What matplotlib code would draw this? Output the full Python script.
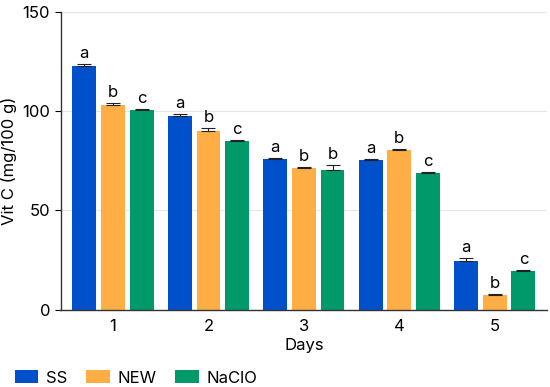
import numpy as np
import matplotlib.pyplot as plt

plt.rcParams['font.family'] = ['Inter', 'DejaVu Sans']

days = ['1', '2', '3', '4', '5']
series = ['SS', 'NEW', 'NaClO']
ss = [122.8, 97.6, 76.0, 75.3, 24.7]
ss_err = [1.0, 0.8, 0.5, 0.5, 1.5]
new = [103.2, 90.1, 71.1, 80.2, 7.2]
new_err = [0.8, 1.2, 0.6, 0.6, 0.6]
naclo = [100.6, 85.0, 70.3, 68.6, 19.3]
naclo_err = [0.5, 0.5, 2.5, 0.8, 0.7]
ss_lbl = ['a', 'a', 'a', 'a', 'a']
new_lbl = ['b', 'b', 'b', 'b', 'b']
naclo_lbl = ['c', 'c', 'b', 'c', 'c']
colors = ['#0050cc', '#ffae45', '#00996a']

fig, ax = plt.subplots(figsize=(5.5, 3.87), dpi=100)
fig.subplots_adjust(left=0.11, right=0.995, top=0.97, bottom=0.2)

x = np.arange(1, len(days) + 1)
w = 0.25
step = 0.30
vals = [ss, new, naclo]
errs = [ss_err, new_err, naclo_err]
lbls = [ss_lbl, new_lbl, naclo_lbl]
for i in range(3):
    xs = x + (i - 1) * step
    ax.bar(xs, vals[i], w, color=colors[i], label=series[i], zorder=2)
    ax.errorbar(xs, vals[i], yerr=[np.zeros(5), errs[i]], fmt='none',
                ecolor='#222222', elinewidth=0.8, capsize=5, capthick=0.8, zorder=3)
    for xx, v, e, t in zip(xs, vals[i], errs[i], lbls[i]):
        ax.text(xx, v + e + 1.5, t, ha='center', va='bottom', fontsize=12)

ax.set_xlim(0.45, 5.55)
ax.set_ylim(0, 150)
ax.set_yticks([0, 50, 100, 150])
ax.set_xticks(x)
ax.set_xticklabels(days)
ax.tick_params(axis='x', length=0, labelsize=12, pad=7)
ax.tick_params(axis='y', labelsize=12, length=4, width=0.8)
ax.yaxis.grid(True, color='#e6e6e6', linewidth=0.8, zorder=0)
ax.set_axisbelow(True)
for s in ['top', 'right']:
    ax.spines[s].set_visible(False)
for s in ['left', 'bottom']:
    ax.spines[s].set_color('#333333')
    ax.spines[s].set_linewidth(1)
ax.set_xlabel('Days', fontsize=12, labelpad=3)
ax.set_ylabel('Vit C (mg/100 g)', fontsize=12, labelpad=4)

fig.legend(loc='lower left', bbox_to_anchor=(0.0, -0.035), ncol=3, frameon=False,
           fontsize=12, handlelength=1.4, handleheight=0.85, handletextpad=0.45,
           columnspacing=1.15)

fig.savefig('out.png', dpi=100)
